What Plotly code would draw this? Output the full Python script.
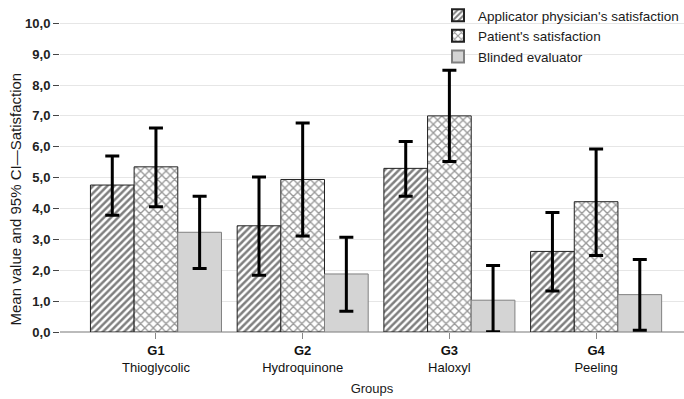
import plotly.graph_objects as go

groups = ["<b>G1</b><br>Thioglycolic", "<b>G2</b><br>Hydroquinone", "<b>G3</b><br>Haloxyl", "<b>G4</b><br>Peeling"]
series_names = ["Applicator physician's satisfaction", "Patient's satisfaction", "Blinded evaluator"]
physician = [4.76, 3.44, 5.30, 2.61]
physician_hi = [5.70, 5.02, 6.17, 3.87]
physician_lo = [3.78, 1.84, 4.40, 1.33]
patient = [5.35, 4.94, 7.00, 4.22]
patient_hi = [6.61, 6.77, 8.48, 5.93]
patient_lo = [4.06, 3.11, 5.52, 2.48]
blinded = [3.23, 1.88, 1.03, 1.21]
blinded_hi = [4.40, 3.07, 2.15, 2.35]
blinded_lo = [2.06, 0.67, 0.01, 0.06]
y_ticks = [0, 1, 2, 3, 4, 5, 6, 7, 8, 9, 10]
y_tick_labels = ["0,0", "1,0", "2,0", "3,0", "4,0", "5,0", "6,0", "7,0", "8,0", "9,0", "10,0"]
y_title = "Mean value and 95% CI\u2014Satisfaction"
x_title = "Groups"

x = list(range(len(groups)))

def err(v, hi, lo):
    return dict(type="data", symmetric=False,
                array=[h - m for h, m in zip(hi, v)],
                arrayminus=[m - l for m, l in zip(v, lo)],
                color="black", thickness=3, width=7)

fig = go.Figure()
fig.add_trace(go.Bar(x=x, y=physician, name=series_names[0], error_y=err(physician, physician_hi, physician_lo),
                     marker=dict(color="white", line=dict(color="#222222", width=1),
                                 pattern=dict(shape="/", fgcolor="black", size=5, solidity=0.5))))
fig.add_trace(go.Bar(x=x, y=patient, name=series_names[1], error_y=err(patient, patient_hi, patient_lo),
                     marker=dict(color="white", line=dict(color="#222222", width=1),
                                 pattern=dict(shape="x", fgcolor="#333333", size=6, solidity=0.4))))
fig.add_trace(go.Bar(x=x, y=blinded, name=series_names[2], error_y=err(blinded, blinded_hi, blinded_lo),
                     marker=dict(color="#d4d4d4", line=dict(color="#808080", width=1))))

fig.update_layout(
    width=684, height=399,
    margin=dict(l=60, r=0, t=14, b=67),
    paper_bgcolor="white", plot_bgcolor="white",
    barmode="group", bargap=0.107, bargroupgap=0,
    font=dict(family="Liberation Sans, Arial, sans-serif", color="#1a1a1a", size=13),
    showlegend=True,
    legend=dict(x=0.606, y=1.045, xanchor="left", yanchor="top", bgcolor="rgba(255,255,255,0)",
                font=dict(size=13.5), tracegroupgap=0, itemsizing="constant"),
    xaxis=dict(tickmode="array", tickvals=x, ticktext=groups, range=[-0.654, 3.599],
               ticks="outside", ticklen=6, tickcolor="#888888", showgrid=False, showline=False,
               automargin=False,
               tickfont=dict(size=13, color="#111111"),
               title=dict(text=x_title, font=dict(size=13), standoff=10)),
    yaxis=dict(tickmode="array", tickvals=y_ticks, ticktext=["<b>%s</b>" % t for t in y_tick_labels],
               range=[0, 10.3], ticks="outside", ticklen=6, tickcolor="#444444",
               showgrid=True, gridcolor="#e6e6e6", gridwidth=1, automargin=False,
               zeroline=True, zerolinecolor="#bbbbbb", zerolinewidth=1.5, showline=False,
               tickfont=dict(size=13, color="#222222")),
    annotations=[dict(text=y_title, textangle=-90, xref="paper", yref="paper",
                      x=-0.072, y=0.417, xanchor="center", yanchor="middle",
                      showarrow=False, font=dict(size=15, color="#1a1a1a"))],
)

fig.write_html("out.html", config={"displayModeBar": False},
               post_script="document.body.style.margin='0';document.body.style.overflow='hidden';")
